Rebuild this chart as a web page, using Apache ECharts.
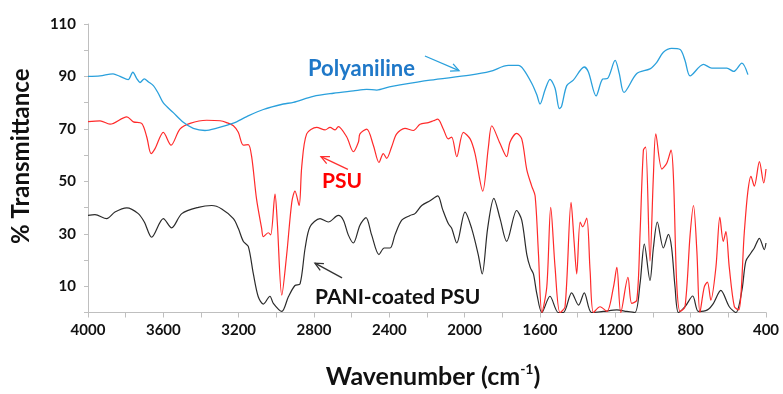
<!DOCTYPE html>
<html>
<head>
<meta charset="utf-8">
<script src="https://cdn.jsdelivr.net/npm/echarts@6/dist/echarts.min.js"></script>
<style>
  html, body { margin: 0; padding: 0; background: #fff; }
  #chart { width: 783px; height: 394px; }
</style>
</head>
<body>
<div id="chart"></div>
<script>
// FTIR spectra: [wavenumber (cm-1), % transmittance]
const polyaniline = [
  [4000,90.0],[3936,90.2],[3867,91.0],[3830,90.0],[3787,88.8],[3762,91.6],[3741,89.2],[3724,87.7],
  [3701,89.1],[3680,88.0],[3653,86.5],[3627,83.6],[3600,79.9],[3547,76.2],[3494,72.5],[3441,70.2],
  [3379,69.4],[3316,70.3],[3228,72.2],[3157,74.7],[3069,77.4],[2963,79.5],[2910,80.1],[2804,82.4],
  [2697,83.6],[2591,84.5],[2520,85.1],[2467,84.8],[2400,86.0],[2343,86.8],[2184,88.6],[1972,90.5],
  [1865,91.9],[1768,94.2],[1715,94.2],[1688,92.7],[1644,87.4],[1617,83.0],[1600,79.5],[1573,84.9],
  [1547,88.9],[1520,85.5],[1497,77.7],[1485,78.7],[1458,86.5],[1423,88.6],[1365,93.6],[1343,91.7],
  [1302,82.6],[1267,89.0],[1242,89.2],[1201,96.1],[1179,91.1],[1154,83.9],[1086,91.1],[1016,92.9],
  [980,95.4],[945,99.2],[901,100.7],[856,100.3],[830,96.1],[803,90.2],[732,94.6],[688,93.2],
  [608,93.2],[572,91.9],[528,95.1],[496,90.7]
];

const psu = [
  [4000,72.8],[3936,73.1],[3883,71.8],[3794,74.6],[3759,72.7],[3715,72.1],[3688,66.9],[3665,60.6],
  [3644,62.5],[3600,68.7],[3559,63.8],[3512,69.9],[3458,72.1],[3370,73.3],[3299,73.1],[3264,72.4],
  [3228,71.2],[3202,68.7],[3175,63.8],[3149,64.0],[3131,59.4],[3105,43.2],[3078,32.1],[3069,28.9],
  [3043,30.4],[3030,29.6],[3007,45.1],[2995,34.5],[2971,6.6],[2945,22.1],[2918,42.0],[2901,46.3],
  [2879,40.8],[2865,55.7],[2839,68.1],[2786,70.6],[2741,69.6],[2715,70.6],[2688,69.6],[2671,70.9],
  [2626,66.9],[2591,61.3],[2564,65.0],[2556,68.1],[2520,69.9],[2485,63.8],[2455,57.2],[2432,60.6],
  [2414,58.8],[2388,63.1],[2361,68.1],[2317,70.2],[2272,69.4],[2237,71.8],[2193,72.4],[2166,73.1],
  [2143,73.7],[2113,69.9],[2087,66.2],[2069,66.9],[2042,59.4],[2007,68.7],[1971,66.2],[1945,60.6],
  [1904,46.3],[1874,63.1],[1856,71.2],[1812,64.4],[1777,59.4],[1759,65.0],[1724,68.3],[1697,66.2],
  [1670,54.4],[1644,48.2],[1626,44.5],[1608,22.1],[1590,0],[1564,9.7],[1543,40.1],[1520,17.2],
  [1494,0],[1467,2.2],[1435,42.0],[1419,27.1],[1405,14.7],[1387,34.5],[1373,32.7],[1352,36.0],
  [1334,15.9],[1316,0],[1281,2.2],[1245,0.4],[1210,9.7],[1192,17.2],[1171,0],[1133,13.4],
  [1113,3.5],[1086,4.7],[1069,29.6],[1051,61.9],[1039,63.1],[1016,19.6],[998,51.9],[985,68.1],
  [953,54.7],[927,56.9],[904,61.9],[891,50.7],[874,10.9],[856,0.4],[830,2.2],[803,29.6],
  [785,40.8],[767,23.3],[751,0],[728,9.7],[711,11.6],[693,4.7],[666,17.2],[645,36.4],
  [627,27.1],[613,30.8],[595,17.2],[568,2.2],[545,1.0],[515,30.8],[497,45.7],[480,51.9],
  [462,48.2],[435,57.5],[412,49.4],[400,54.7]
];

const paniCoatedPsu = [
  [4000,37.0],[3963,37.3],[3901,35.8],[3857,38.3],[3794,39.9],[3733,37.7],[3701,34.5],[3662,28.7],
  [3600,35.8],[3556,32.3],[3502,37.7],[3414,40.1],[3343,40.8],[3290,39.5],[3228,35.8],[3202,32.1],
  [3175,27.1],[3149,25.2],[3122,14.7],[3096,6.0],[3069,3.2],[3034,6.2],[3016,3.5],[2971,0.4],
  [2936,6.0],[2901,10.3],[2874,10.9],[2847,24.6],[2821,32.7],[2768,35.8],[2724,34.5],[2671,37.0],
  [2644,35.2],[2618,29.6],[2591,26.5],[2556,33.3],[2524,36.2],[2494,29.6],[2455,22.1],[2427,24.6],
  [2396,24.6],[2370,29.6],[2334,35.2],[2290,37.0],[2264,37.7],[2228,40.8],[2184,42.6],[2143,44.5],
  [2118,39.5],[2087,33.9],[2069,32.1],[2042,26.5],[1998,38.3],[1963,32.1],[1928,22.1],[1907,14.7],
  [1878,32.1],[1845,43.5],[1812,35.8],[1777,27.1],[1724,38.9],[1697,35.2],[1670,22.1],[1652,17.2],
  [1635,14.7],[1617,7.2],[1590,0],[1547,6.2],[1503,0],[1476,0],[1432,7.5],[1395,2.8],
  [1365,7.5],[1326,0],[1264,0.4],[1192,1.0],[1139,0.4],[1096,0],[1069,10.9],[1046,26.1],
  [1016,12.2],[998,24.6],[977,34.5],[945,24.6],[918,29.8],[901,24.6],[883,9.7],[865,0],
  [830,2.2],[789,6.3],[759,0.4],[711,1.0],[679,3.5],[640,8.4],[595,2.2],[560,0],
  [528,8.4],[507,19.6],[480,22.7],[462,24.6],[435,28.3],[409,24.0],[400,26.5]
];

// Labelled tick values on each axis
const xTickLabels = [4000, 3600, 3200, 2800, 2400, 2000, 1600, 1200, 800, 400];
const yTickLabels = [10, 30, 50, 70, 90, 110];

const FONT = 'Lato';
const AXIS_GREY = '#bfbfbf';

const chart = echarts.init(document.getElementById('chart'), null, { renderer: 'canvas' });

chart.setOption({
  animation: false,
  backgroundColor: '#ffffff',
  grid: { left: 88, right: 17, top: 24, bottom: 75, containLabel: false },
  xAxis: {
    type: 'value',
    inverse: true,
    min: 400,
    max: 4000,
    interval: 200,
    name: '{t|Wavenumber (cm}{s|-1}{t|)}',
    nameLocation: 'middle',
    nameGap: 50,
    nameTextStyle: {
      padding: [0, 0, 0, 12],
      rich: {
        t: { fontFamily: FONT, fontWeight: 'bold', fontSize: 25, color: '#111', lineHeight: 28 },
        s: { fontFamily: FONT, fontWeight: 'bold', fontSize: 14, color: '#111', verticalAlign: 'top', lineHeight: 28 }
      }
    },
    axisLine: { show: true, lineStyle: { color: AXIS_GREY, width: 1 } },
    axisTick: { show: true, length: 5, lineStyle: { color: AXIS_GREY } },
    axisLabel: {
      fontFamily: FONT, fontWeight: 'bold', fontSize: 15, color: '#111', margin: 10,
      formatter: v => xTickLabels.includes(v) ? String(v) : ''
    },
    splitLine: { show: false }
  },
  yAxis: {
    type: 'value',
    min: 0,
    max: 110,
    interval: 10,
    name: '% Transmittance',
    nameLocation: 'middle',
    nameGap: 55,
    nameTextStyle: {
      fontFamily: FONT, fontWeight: 'bold', fontSize: 24, color: '#111',
      padding: [0, 0, 0, 24]
    },
    axisLine: { show: true, lineStyle: { color: AXIS_GREY, width: 1 } },
    axisTick: { show: true, length: 4, lineStyle: { color: AXIS_GREY } },
    axisLabel: {
      fontFamily: FONT, fontWeight: 'bold', fontSize: 15, color: '#111', margin: 12,
      formatter: v => yTickLabels.includes(v) ? String(v) : ''
    },
    splitLine: { show: false }
  },
  series: [
    {
      name: 'Polyaniline', type: 'line', data: polyaniline, showSymbol: false, smooth: 0.3,
      lineStyle: { color: '#2aa0dc', width: 1.3 }, z: 3
    },
    {
      name: 'PSU', type: 'line', data: psu, showSymbol: false, smooth: 0.3,
      lineStyle: { color: '#ff2a2a', width: 1.2 }, z: 2
    },
    {
      name: 'PANI-coated PSU', type: 'line', data: paniCoatedPsu, showSymbol: false, smooth: 0.3,
      lineStyle: { color: '#2b2b2b', width: 1.2 }, z: 1
    }
  ]
});

// Series labels with pointer arrows, anchored in data coordinates
const annotations = [
  { text: 'Polyaniline', at: [2832, 93.0], color: '#1f78c8', size: 22,
    tail: [2211, 97.8], head: [2030, 92.2], arrowColor: '#2aa0dc' },
  { text: 'PSU', at: [2757, 50.0], color: '#ff0000', size: 21,
    tail: [2620, 54.6], head: [2763, 59.4], arrowColor: '#ff3030' },
  { text: 'PANI-coated PSU', at: [2795, 6.0], color: '#111111', size: 21,
    tail: [2651, 13.2], head: [2795, 18.8], arrowColor: '#333333' }
];

const toPx = p => chart.convertToPixel({ gridIndex: 0 }, p);
const graphics = [];
annotations.forEach(a => {
  const p = toPx(a.at);
  graphics.push({
    type: 'text', x: p[0], y: p[1],
    style: { text: a.text, fill: a.color, font: `bold ${a.size}px ${FONT}`,
             textAlign: 'left', textVerticalAlign: 'middle' }
  });
  const t = toPx(a.tail), h = toPx(a.head);
  const ang = Math.atan2(h[1] - t[1], h[0] - t[0]);
  const L = 9, spread = Math.PI / 7;
  const w1 = [h[0] - L * Math.cos(ang - spread), h[1] - L * Math.sin(ang - spread)];
  const w2 = [h[0] - L * Math.cos(ang + spread), h[1] - L * Math.sin(ang + spread)];
  graphics.push({
    type: 'polyline', shape: { points: [t, h] },
    style: { stroke: a.arrowColor, lineWidth: 1.3, fill: null }
  });
  graphics.push({
    type: 'polyline', shape: { points: [w1, h, w2] },
    style: { stroke: a.arrowColor, lineWidth: 1.3, fill: null }
  });
});
chart.setOption({ graphic: graphics });
</script>
</body>
</html>
